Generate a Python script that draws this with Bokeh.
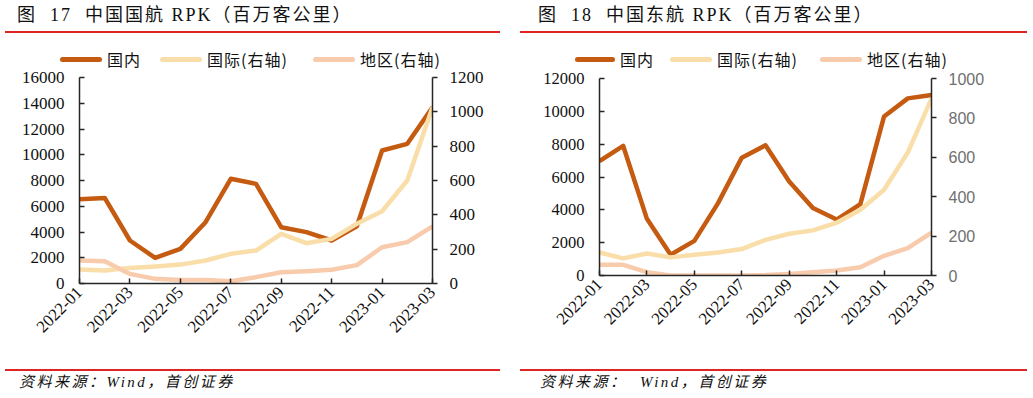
from bokeh.plotting import figure
from bokeh.models import Range1d, LinearAxis, FixedTicker, ColumnDataSource, Div
from bokeh.layouts import row, column
from bokeh.embed import file_html
from bokeh.resources import INLINE
from math import pi

months = ["2022-01", "2022-02", "2022-03", "2022-04", "2022-05", "2022-06", "2022-07",
          "2022-08", "2022-09", "2022-10", "2022-11", "2022-12", "2023-01", "2023-02", "2023-03"]

# 中国国航
ca_domestic = [6550, 6650, 3340, 1990, 2690, 4760, 8130, 7740, 4370, 3990, 3340, 4450, 10330, 10850, 13690]
ca_intl = [82, 76, 91, 99, 110, 134, 173, 192, 289, 235, 260, 348, 421, 600, 1027]
ca_region = [134, 130, 56, 27, 21, 21, 13, 37, 66, 72, 80, 107, 211, 241, 332]

# 中国东航
ce_domestic = [6965, 7890, 3450, 1265, 2110, 4410, 7180, 7930, 5720, 4110, 3410, 4350, 9690, 10790, 11000]
ce_intl = [117, 87, 112, 92, 105, 117, 134, 181, 212, 229, 268, 334, 435, 624, 898]
ce_region = [54, 54, 17, 0, 0, 0, 0, 2, 8, 17, 25, 42, 100, 139, 217]

series_names = ["国内", "国际(右轴)", "地区(右轴)"]
titles = ["图&nbsp;&nbsp;17&nbsp;&nbsp;中国国航 RPK（百万客公里）", "图&nbsp;&nbsp;18&nbsp;&nbsp;中国东航 RPK（百万客公里）"]
source_text = ["资料来源：Wind，首创证券", "资料来源：&nbsp;&nbsp;Wind，首创证券"]

C_DOM = "#C55A11"
C_INT = "#F9DEA9"
C_REG = "#F8CBAD"
series_colors = [C_DOM, C_INT, C_REG]
RED = "#E02424"
AX = "#262626"
SERIF = "'Liberation Serif', 'Noto Sans CJK SC'"
CJK = "'Noto Sans CJK SC'"
HEAD_H = 69


def header(width, title, tx, lx, lw, legend_pos):
    parts = [f'<div style="position:relative;width:{width}px;height:{HEAD_H}px;">',
             f'<div style="position:absolute;left:{tx}px;top:5px;font-family:{SERIF};font-size:18px;'
             f'line-height:20px;letter-spacing:2px;color:#111;white-space:nowrap;">{title}</div>',
             f'<div style="position:absolute;left:{lx}px;top:31px;width:{lw}px;height:2px;background:{RED};"></div>']
    # legend (bar start, bar width) for each series
    for (bx, bw), name, col in zip(legend_pos, series_names, series_colors):
        parts.append(f'<div style="position:absolute;left:{bx}px;top:57px;width:{bw}px;height:5px;'
                     f'border-radius:2.5px;background:{col};"></div>')
        parts.append(f'<div style="position:absolute;left:{bx + bw + 5}px;top:49px;font-family:{CJK};'
                     f'font-size:16px;line-height:20px;letter-spacing:1px;color:#111;white-space:nowrap;">{name}</div>')
    parts.append('</div>')
    return Div(text="".join(parts), width=width, height=HEAD_H, margin=0)


def footer(width, txt, tx, lx, lw):
    html = (f'<div style="position:relative;width:{width}px;height:38px;">'
            f'<div style="position:absolute;left:{lx}px;top:9px;width:{lw}px;height:2px;background:{RED};"></div>'
            f'<div style="position:absolute;left:{tx}px;top:14px;font-family:{SERIF};font-size:15px;font-style:italic;'
            f'line-height:17px;letter-spacing:2.5px;color:#111;white-space:nowrap;">{txt}</div>'
            f'</div>')
    return Div(text=html, width=width, height=38, margin=0)


def panel(dom, intl, reg, ymax, ystep, rmax, rstep, width, height, bl, br, bt, bb,
          left_size, right_font, right_color, right_size):
    x = list(range(len(months)))
    src = ColumnDataSource(dict(x=x, dom=dom, intl=intl, reg=reg))
    p = figure(width=width, height=height, x_range=Range1d(0, len(months) - 1),
               y_range=Range1d(0, ymax), output_backend="svg", toolbar_location=None,
               x_axis_type=None, y_axis_type=None,
               min_border_left=bl, min_border_right=br, min_border_top=bt, min_border_bottom=bb)
    p.extra_y_ranges = {"r": Range1d(0, rmax)}
    p.grid.visible = False
    p.outline_line_color = None

    xa = LinearAxis(ticker=FixedTicker(ticks=list(range(0, len(months), 2))),
                    major_label_overrides={i: months[i] for i in range(0, len(months), 2)})
    xa.major_label_orientation = pi / 4
    xa.major_tick_in = 5
    xa.major_tick_out = 0
    xa.minor_tick_in = 0
    xa.minor_tick_out = 0
    xa.axis_line_color = AX
    xa.axis_line_width = 1.5
    xa.major_tick_line_color = AX
    xa.major_tick_line_width = 1.5
    xa.major_label_text_font = SERIF
    xa.major_label_text_font_size = "17px"
    xa.major_label_text_color = "#111111"
    xa.major_label_standoff = 6
    p.add_layout(xa, "below")

    yl = LinearAxis(ticker=FixedTicker(ticks=list(range(0, ymax + 1, ystep))))
    yl.major_tick_in = 5
    yl.major_tick_out = 0
    yl.minor_tick_in = 0
    yl.minor_tick_out = 0
    yl.axis_line_color = AX
    yl.axis_line_width = 1.5
    yl.major_tick_line_color = AX
    yl.major_tick_line_width = 1.5
    yl.major_label_text_font = SERIF
    yl.major_label_text_font_size = left_size
    yl.major_label_text_color = "#111111"
    yl.major_label_standoff = 15
    p.add_layout(yl, "left")

    yr = LinearAxis(y_range_name="r", ticker=FixedTicker(ticks=list(range(0, rmax + 1, rstep))))
    yr.major_tick_in = 0
    yr.major_tick_out = 5
    yr.minor_tick_in = 0
    yr.minor_tick_out = 0
    yr.axis_line_color = AX
    yr.axis_line_width = 1.5
    yr.major_tick_line_color = AX
    yr.major_tick_line_width = 1.5
    yr.major_label_text_font = right_font
    yr.major_label_text_font_size = right_size
    yr.major_label_text_color = right_color
    yr.major_label_standoff = 12
    p.add_layout(yr, "right")

    p.line("x", "dom", source=src, line_color=C_DOM, line_width=4.5, line_join="round")
    p.line("x", "intl", source=src, line_color=C_INT, line_width=4.5, line_join="round",
           y_range_name="r")
    p.line("x", "reg", source=src, line_color=C_REG, line_width=4.5, line_join="round",
           y_range_name="r")
    return p


left_main = panel(ca_domestic, ca_intl, ca_region, 16000, 2000, 1200, 200,
                  520, 360 - HEAD_H, 79, 88, 77 - HEAD_H, 77, "17px", SERIF, "#111111", "17px")
right_main = panel(ce_domestic, ce_intl, ce_region, 12000, 2000, 1000, 200,
                   513, 360 - HEAD_H, 79, 102, 78 - HEAD_H, 85, "16.5px", "'Liberation Sans'", "#6F6F6F", "16px")

left_col = column(header(520, titles[0], 17, 5, 495, [(60, 42), (160, 42), (313, 42)]), left_main,
                  footer(520, source_text[0], 19, 5, 495), spacing=0)
right_col = column(header(513, titles[1], 18, 0, 507, [(55, 40), (150, 42), (300, 42)]), right_main,
                   footer(513, source_text[1], 20, 0, 507), spacing=0)
layout = row(left_col, right_col, spacing=0)

open("out.html", "w").write(file_html(layout, INLINE))
